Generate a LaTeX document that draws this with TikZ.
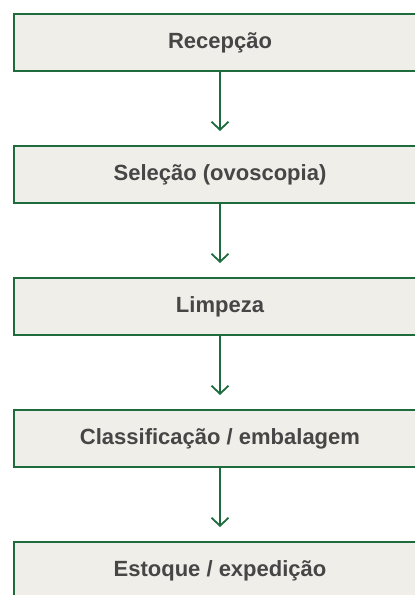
\documentclass[tikz,border=0pt]{standalone}
\usepackage{fontspec}
\setmainfont{Liberation Sans}
\usetikzlibrary{arrows.meta, positioning}
\definecolor{boxgreen}{HTML}{1E6B3E}
\definecolor{boxfill}{HTML}{EFEEE9}
\definecolor{textgray}{HTML}{464646}
\tikzset{
  x=1pt, y=1pt, % one unit is one pixel of the layout
  node distance=73pt, % gap between two boxes
  stage/.style={draw=boxgreen, line width=2pt, fill=boxfill,
    minimum width=412pt, minimum height=57pt, text=textgray,
    font=\bfseries\fontsize{22}{25}\selectfont}, % each step box
  flow/.style={draw=boxgreen, line width=1.8pt,
    -{Straight Barb[length=8pt, width=17pt]}, shorten >=14pt}, % the arrows
}
\begin{document}
\begin{tikzpicture}
  \useasboundingbox (0,0) rectangle (415,-595);
  \clip (0,0) rectangle (415,-595);

  \node[stage] (reception) at (220,-42.5) {Recepção};
  \node[stage, below=of reception] (selection) {Seleção (ovoscopia)};
  \node[stage, below=of selection] (cleaning) {Limpeza};
  \node[stage, below=of cleaning] (grading) {Classificação / embalagem};
  \node[stage, below=of grading] (storage) {Estoque / expedição};

  \draw[flow] (reception) -- (selection);
  \draw[flow] (selection) -- (cleaning);
  \draw[flow] (cleaning) -- (grading);
  \draw[flow] (grading) -- (storage);
\end{tikzpicture}
\end{document}
